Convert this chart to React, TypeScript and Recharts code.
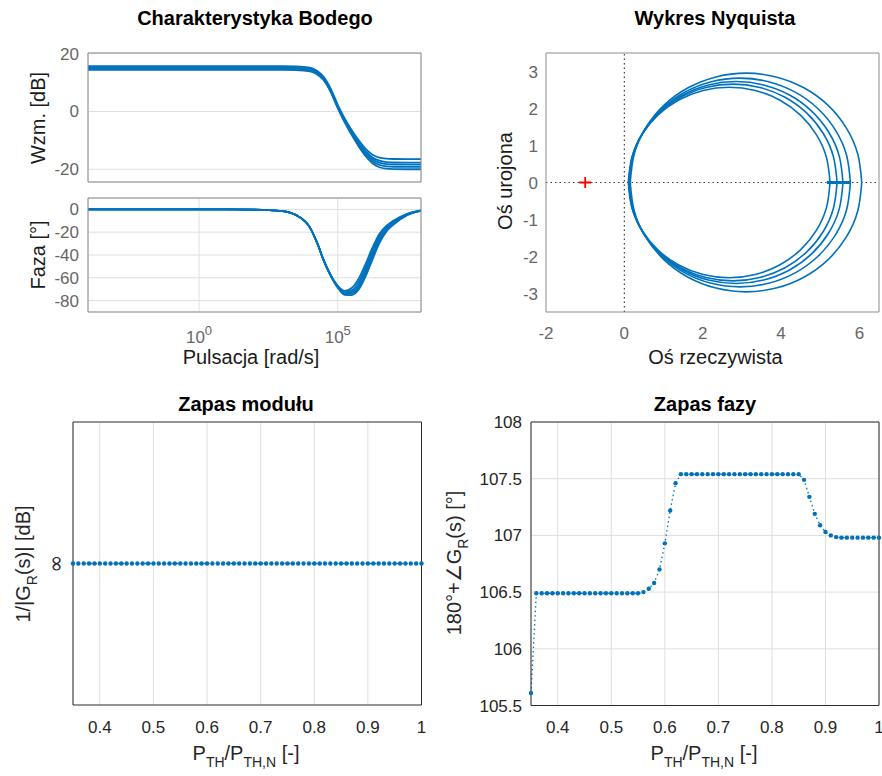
import React from 'react';
import {
  ComposedChart,
  LineChart,
  Line,
  Scatter,
  XAxis,
  YAxis,
  CartesianGrid,
  ReferenceLine,
} from 'recharts';

const BLUE = '#0072BD';
const FONT = '"Liberation Sans", Arial, Helvetica, sans-serif';

// ---------- Bode: frequency grid [rad/s] and the responses ----------
const omega = [1e-4, 1e1, 1e2, 1e3, 3.16e3, 1e4, 1.78e4, 3.16e4, 5.62e4, 1e5, 1.78e5, 3.16e5, 5.62e5, 1e6, 1.78e6, 3.16e6, 5.62e6, 1e7, 3.16e7, 1e8];

const magDb1 = [15.65, 15.65, 15.65, 15.64, 15.57, 15.1, 14.1, 11.9, 7.8, 2.3, -2.4, -6.4, -9.9, -12.9, -15.0, -16.0, -16.35, -16.45, -16.5, -16.5];
const magDb2 = [15.22, 15.22, 15.22, 15.21, 15.14, 14.69, 13.69, 11.49, 7.4, 1.9, -2.9, -6.9, -10.6, -13.7, -15.9, -17.0, -17.5, -17.65, -17.7, -17.7];
const magDb3 = [14.93, 14.93, 14.93, 14.92, 14.85, 14.4, 13.4, 11.2, 7.1, 1.6, -3.2, -7.3, -11.0, -14.2, -16.5, -17.7, -18.2, -18.35, -18.4, -18.4];
const magDb4 = [14.7, 14.7, 14.7, 14.69, 14.62, 14.17, 13.17, 10.97, 6.9, 1.4, -3.5, -7.7, -11.5, -14.8, -17.2, -18.5, -19.0, -19.15, -19.2, -19.2];
const magDb5 = [14.4, 14.4, 14.4, 14.39, 14.32, 13.87, 12.87, 10.67, 6.6, 1.1, -3.8, -8.1, -12.0, -15.4, -17.9, -19.3, -19.8, -19.95, -20.0, -20.0];

const phaseDeg1 = [0, 0, -0.2, -1.5, -5, -16, -29, -45, -57.8, -67, -71.5, -69, -61, -48, -33.5, -21.5, -14.5, -10, -3.8, -0.9];
const phaseDeg2 = [0, 0, -0.2, -1.5, -5, -16, -29, -45, -57.9, -67.5, -72.5, -71, -64, -51, -36.5, -23.5, -15.8, -11, -4.2, -1];
const phaseDeg3 = [0, 0, -0.2, -1.5, -5, -16, -29, -45, -58, -68, -73.5, -72.5, -66.5, -54, -39, -25.5, -17, -12, -4.5, -1];
const phaseDeg4 = [0, 0, -0.2, -1.5, -5, -16, -29, -45.2, -58.2, -68.3, -74.2, -73.8, -68.5, -56.5, -41.5, -27.5, -18.2, -12.8, -4.8, -1.1];
const phaseDeg5 = [0, 0, -0.2, -1.5, -5, -16, -29, -45.3, -58.4, -68.6, -75, -75.2, -70.5, -59, -44, -29.5, -19.5, -13.6, -5.1, -1.2];

// ---------- Nyquist: positive-frequency branch [Re, Im] of each curve ----------
const nyq1: [number, number][] = [
  [6.06, 0], [5.959, -0.765], [5.664, -1.478], [5.195, -2.09], [4.583, -2.559], [3.87, -2.854], [3.105, -2.955],
  [2.34, -2.854], [1.627, -2.559], [1.015, -2.09], [0.546, -1.478], [0.251, -0.765], [0.15, 0],
];
const nyq2: [number, number][] = [
  [5.77, 0], [5.674, -0.73], [5.392, -1.41], [4.944, -1.994], [4.36, -2.442], [3.68, -2.724], [2.95, -2.82],
  [2.22, -2.724], [1.54, -2.442], [0.956, -1.994], [0.508, -1.41], [0.226, -0.73], [0.13, 0],
];
const nyq3: [number, number][] = [
  [5.58, 0], [5.487, -0.707], [5.214, -1.365], [4.78, -1.93], [4.215, -2.364], [3.557, -2.637], [2.85, -2.73],
  [2.143, -2.637], [1.485, -2.364], [0.92, -1.93], [0.486, -1.365], [0.213, -0.707], [0.12, 0],
];
const nyq4: [number, number][] = [
  [5.43, 0], [5.339, -0.688], [5.074, -1.33], [4.651, -1.881], [4.1, -2.304], [3.458, -2.569], [2.77, -2.66],
  [2.082, -2.569], [1.44, -2.304], [0.889, -1.881], [0.466, -1.33], [0.201, -0.688], [0.11, 0],
];
const nyq5: [number, number][] = [
  [5.25, 0], [5.162, -0.666], [4.905, -1.288], [4.496, -1.821], [3.963, -2.23], [3.341, -2.487], [2.675, -2.575],
  [2.009, -2.487], [1.387, -2.23], [0.854, -1.821], [0.445, -1.288], [0.188, -0.666], [0.1, 0],
];
const nyqLowFreq: [number, number][] = [[5.17, 0], [5.78, 0]];
const criticalPoint = [{ re: -1, im: 0 }];

// ---------- Stability margins vs P_TH/P_TH,N ----------
const pth = [
  0.35, 0.36, 0.37, 0.38, 0.39, 0.4, 0.41, 0.42, 0.43, 0.44,
  0.45, 0.46, 0.47, 0.48, 0.49, 0.5, 0.51, 0.52, 0.53, 0.54,
  0.55, 0.56, 0.57, 0.58, 0.59, 0.6, 0.61, 0.62, 0.63, 0.64,
  0.65, 0.66, 0.67, 0.68, 0.69, 0.7, 0.71, 0.72, 0.73, 0.74,
  0.75, 0.76, 0.77, 0.78, 0.79, 0.8, 0.81, 0.82, 0.83, 0.84,
  0.85, 0.86, 0.87, 0.88, 0.89, 0.9, 0.91, 0.92, 0.93, 0.94,
  0.95, 0.96, 0.97, 0.98, 0.99, 1.0,
];
const gmDb = [
  Infinity, Infinity, Infinity, Infinity, Infinity, Infinity, Infinity, Infinity, Infinity, Infinity,
  Infinity, Infinity, Infinity, Infinity, Infinity, Infinity, Infinity, Infinity, Infinity, Infinity,
  Infinity, Infinity, Infinity, Infinity, Infinity, Infinity, Infinity, Infinity, Infinity, Infinity,
  Infinity, Infinity, Infinity, Infinity, Infinity, Infinity, Infinity, Infinity, Infinity, Infinity,
  Infinity, Infinity, Infinity, Infinity, Infinity, Infinity, Infinity, Infinity, Infinity, Infinity,
  Infinity, Infinity, Infinity, Infinity, Infinity, Infinity, Infinity, Infinity, Infinity, Infinity,
  Infinity, Infinity, Infinity, Infinity, Infinity, Infinity,
];
const pmDeg = [
  105.61, 106.49, 106.49, 106.49, 106.49, 106.49, 106.49, 106.49, 106.49, 106.49,
  106.49, 106.49, 106.49, 106.49, 106.49, 106.49, 106.49, 106.49, 106.49, 106.49,
  106.49, 106.5, 106.53, 106.58, 106.7, 106.93, 107.22, 107.46, 107.54, 107.54,
  107.54, 107.54, 107.54, 107.54, 107.54, 107.54, 107.54, 107.54, 107.54, 107.54,
  107.54, 107.54, 107.54, 107.54, 107.54, 107.54, 107.54, 107.54, 107.54, 107.54,
  107.54, 107.49, 107.34, 107.19, 107.09, 107.03, 107.0, 106.985, 106.98, 106.98,
  106.98, 106.98, 106.98, 106.98, 106.98, 106.98,
];
// the gain-margin axis only has one tick, labelled infinity, at this level
const INF_LEVEL = 1;

const bodeData = omega.map((w, i) => ({
  w,
  m1: magDb1[i], m2: magDb2[i], m3: magDb3[i], m4: magDb4[i], m5: magDb5[i],
  f1: phaseDeg1[i], f2: phaseDeg2[i], f3: phaseDeg3[i], f4: phaseDeg4[i], f5: phaseDeg5[i],
}));
const nyqCurves = [nyq1, nyq2, nyq3, nyq4, nyq5].map((c) => c.map(([re, im]) => ({ re, im })));
const marginData = pth.map((p, i) => ({
  p,
  gm: Number.isFinite(gmDb[i]) ? gmDb[i] : INF_LEVEL,
  pm: pmDeg[i],
}));

// layout: every chart is placed so that its plot area lands on (x0,y0)-(x1,y1)
const YW = 60;
const XH = 50;
const MT = 10;
const MR = 10;
const MARGIN = { top: MT, right: MR, bottom: 0, left: 0 };

function place(x0: number, y0: number, x1: number, y1: number) {
  return {
    pos: { position: 'absolute' as const, left: x0 - YW, top: y0 - MT },
    width: x1 - x0 + YW + MR,
    height: y1 - y0 + MT + XH,
  };
}

const TOP_FRAME = '#8c8c8c';
const TOP_TEXT = '#666666';
const BOT_FRAME = '#2b2b2b';
const BOT_TEXT = '#262626';
const GRID = '#dfdfdf';

// box with inward ticks on all four sides (MATLAB style)
function frameAxes(xa: any, ya: any, color: string) {
  const line = { stroke: color, strokeWidth: 1 };
  return [
    <XAxis key='ft' xAxisId='ft' orientation='top' mirror {...xa} tick={false} tickLine={line} tickSize={4} axisLine={line} />,
    <XAxis key='fb' xAxisId='fb' orientation='bottom' mirror {...xa} tick={false} tickLine={line} tickSize={4} axisLine={false} />,
    <YAxis key='fr' yAxisId='fr' orientation='right' mirror {...ya} tick={false} tickLine={line} tickSize={4} axisLine={line} />,
    <YAxis key='fl' yAxisId='fl' orientation='left' mirror {...ya} tick={false} tickLine={line} tickSize={4} axisLine={false} />,
  ];
}

function PowTick({ x, y, payload }: any) {
  const e = Math.round(Math.log10(payload.value));
  return (
    <text x={x} y={y} textAnchor='middle' fill={TOP_TEXT} fontSize={17} fontFamily={FONT}>
      <tspan dy={13}>10</tspan>
      <tspan dy={-8} fontSize={13}>{e}</tspan>
    </text>
  );
}

function InfTick({ x, y }: any) {
  return (
    <text
      x={x}
      y={y}
      textAnchor='middle'
      dominantBaseline='central'
      transform={`rotate(-90 ${x} ${y})`}
      fill={BOT_TEXT}
      fontSize={22}
      fontFamily='"DejaVu Sans", sans-serif'
    >
      ∞
    </text>
  );
}

function RedPlus({ cx, cy }: any) {
  return (
    <path
      d={`M${cx - 6},${cy}H${cx + 6}M${cx},${cy - 5.5}V${cy + 5.5}`}
      stroke='#ff0000'
      strokeWidth={1.8}
      fill='none'
    />
  );
}

function Txt({ x, y, size = 20, bold, rotate, color = '#1a1a1a', children }: any) {
  return (
    <div
      style={{
        position: 'absolute',
        left: x,
        top: y,
        transform: `translate(-50%, -50%)${rotate ? ' rotate(-90deg)' : ''}`,
        fontSize: size,
        lineHeight: `${size}px`,
        fontWeight: bold ? 700 : 400,
        whiteSpace: 'nowrap',
        color,
      }}
    >
      {children}
    </div>
  );
}

function Sub({ children }: any) {
  return <span style={{ fontSize: 14, position: 'relative', top: 7 }}>{children}</span>;
}

const topTick = { fill: TOP_TEXT, fontSize: 17, fontFamily: FONT };
const botTick = { fill: BOT_TEXT, fontSize: 17, fontFamily: FONT };

export default function App() {
  const bMag = place(88, 53, 421, 182);
  const bPh = place(88, 198, 421, 312);
  const nq = place(546, 53, 879, 312);
  const gm = place(73, 422, 421.5, 705);
  const pm = place(531, 422, 879, 705.5);

  const bodeX = { dataKey: 'w', type: 'number', scale: 'log', domain: [1e-4, 1e8], ticks: [1, 1e5], allowDataOverflow: true, interval: 0 };
  const magY = { type: 'number', domain: [-24.4, 20.2], ticks: [-20, 0, 20], allowDataOverflow: true, interval: 0 };
  const phY = { type: 'number', domain: [-90, 10], ticks: [-80, -60, -40, -20, 0], allowDataOverflow: true, interval: 0 };
  const nqX = { dataKey: 're', type: 'number', domain: [-2, 6.5], ticks: [-2, 0, 2, 4, 6], allowDataOverflow: true, interval: 0 };
  const nqY = { type: 'number', domain: [-3.5, 3.5], ticks: [-3, -2, -1, 0, 1, 2, 3], allowDataOverflow: true, interval: 0 };
  const pX = { dataKey: 'p', type: 'number', domain: [0.35, 1], ticks: [0.4, 0.5, 0.6, 0.7, 0.8, 0.9, 1], allowDataOverflow: true, interval: 0 };
  const gmY = { type: 'number', domain: [0, 2], ticks: [INF_LEVEL], allowDataOverflow: true, interval: 0 };
  const pmY = { type: 'number', domain: [105.5, 108], ticks: [105.5, 106, 106.5, 107, 107.5, 108], allowDataOverflow: true, interval: 0 };

  const topLine = { stroke: TOP_FRAME };
  const botLine = { stroke: BOT_FRAME };

  return (
    <div
      style={{
        position: 'absolute',
        left: 0,
        top: 0,
        width: 882,
        height: 776,
        overflow: 'hidden',
        background: '#fff',
        fontFamily: FONT,
      }}
    >
      {/* Bode magnitude */}
      <div style={bMag.pos}>
        <LineChart width={bMag.width} height={bMag.height} data={bodeData} margin={MARGIN}>
          <CartesianGrid stroke={GRID} />
          <XAxis {...(bodeX as any)} height={XH} tick={false} tickLine={false} axisLine={topLine} />
          <YAxis {...(magY as any)} width={YW} tickLine={false} tickSize={0} tickMargin={9} axisLine={topLine} tick={topTick} />
          {frameAxes(bodeX, magY, TOP_FRAME)}
          {['m1', 'm2', 'm3', 'm4', 'm5'].map((k) => (
            <Line key={k} dataKey={k} type='monotone' stroke={BLUE} strokeWidth={1.8} dot={false} isAnimationActive={false} />
          ))}
        </LineChart>
      </div>

      {/* Bode phase */}
      <div style={bPh.pos}>
        <LineChart width={bPh.width} height={bPh.height} data={bodeData} margin={MARGIN}>
          <CartesianGrid stroke={GRID} />
          <XAxis {...(bodeX as any)} height={XH} tick={<PowTick />} tickLine={false} tickSize={0} tickMargin={18} axisLine={topLine} />
          <YAxis {...(phY as any)} width={YW} tickLine={false} tickSize={0} tickMargin={9} axisLine={topLine} tick={topTick} />
          {frameAxes(bodeX, phY, TOP_FRAME)}
          {['f1', 'f2', 'f3', 'f4', 'f5'].map((k) => (
            <Line key={k} dataKey={k} type='monotone' stroke={BLUE} strokeWidth={1.8} dot={false} isAnimationActive={false} />
          ))}
        </LineChart>
      </div>

      {/* Nyquist */}
      <div style={nq.pos}>
        <ComposedChart width={nq.width} height={nq.height} margin={MARGIN}>
          <XAxis {...(nqX as any)} height={XH} tickLine={false} tickSize={0} tickMargin={15} axisLine={topLine} tick={topTick} />
          <YAxis {...(nqY as any)} width={YW} tickLine={false} tickSize={0} tickMargin={8} axisLine={topLine} tick={topTick} />
          {frameAxes(nqX, nqY, TOP_FRAME)}
          <ReferenceLine x={0} stroke='#404040' strokeWidth={1.2} strokeDasharray='1.5 3' />
          <ReferenceLine y={0} stroke='#404040' strokeWidth={1.2} strokeDasharray='1.5 3' />
          {nyqCurves.map((c, i) => (
            <Line
              key={'lo' + i}
              data={c}
              dataKey='im'
              type='natural'
              stroke={BLUE}
              strokeWidth={1.6}
              dot={false}
              isAnimationActive={false}
            />
          ))}
          {nyqCurves.map((c, i) => (
            <Line
              key={'hi' + i}
              data={c.map((pt) => ({ re: pt.re, im: -pt.im }))}
              dataKey='im'
              type='natural'
              stroke={BLUE}
              strokeWidth={1.6}
              dot={false}
              isAnimationActive={false}
            />
          ))}
          <Line
            data={nyqLowFreq.map(([re, im]) => ({ re, im }))}
            dataKey='im'
            type='linear'
            stroke={BLUE}
            strokeWidth={3}
            dot={false}
            isAnimationActive={false}
          />
          <Scatter data={criticalPoint} dataKey='im' shape={<RedPlus />} isAnimationActive={false} />
        </ComposedChart>
      </div>

      {/* Gain margin */}
      <div style={gm.pos}>
        <LineChart width={gm.width} height={gm.height} data={marginData} margin={MARGIN}>
          <CartesianGrid stroke={GRID} horizontal={false} />
          <XAxis {...(pX as any)} height={XH} tickLine={false} tickSize={0} tickMargin={15.5} axisLine={botLine} tick={botTick} />
          <YAxis {...(gmY as any)} width={YW} tickLine={false} tickSize={0} tickMargin={18} axisLine={botLine} tick={<InfTick />} />
          {frameAxes(pX, gmY, BOT_FRAME)}
          <Line
            dataKey='gm'
            type='linear'
            stroke={BLUE}
            strokeWidth={1.3}
            strokeDasharray='1.5 3'
            dot={{ r: 2.2, fill: BLUE, stroke: 'none', clipDot: false }}
            isAnimationActive={false}
          />
        </LineChart>
      </div>

      {/* Phase margin */}
      <div style={pm.pos}>
        <LineChart width={pm.width} height={pm.height} data={marginData} margin={MARGIN}>
          <CartesianGrid stroke={GRID} />
          <XAxis {...(pX as any)} height={XH} tickLine={false} tickSize={0} tickMargin={15.5} axisLine={botLine} tick={botTick} />
          <YAxis {...(pmY as any)} width={YW} tickLine={false} tickSize={0} tickMargin={9} axisLine={botLine} tick={botTick} />
          {frameAxes(pX, pmY, BOT_FRAME)}
          <Line
            dataKey='pm'
            type='linear'
            stroke={BLUE}
            strokeWidth={1.3}
            strokeDasharray='1.5 3'
            dot={{ r: 2.2, fill: BLUE, stroke: 'none', clipDot: false }}
            isAnimationActive={false}
          />
        </LineChart>
      </div>

      {/* titles and axis labels */}
      <Txt x={255} y={18} bold color='#000'>Charakterystyka Bodego</Txt>
      <Txt x={715} y={18} bold color='#000'>Wykres Nyquista</Txt>
      <Txt x={246} y={404} bold color='#000'>Zapas modułu</Txt>
      <Txt x={705} y={404} bold color='#000'>Zapas fazy</Txt>

      <Txt x={37.5} y={118} rotate>Wzm. [dB]</Txt>
      <Txt x={38} y={255} rotate>Faza [°]</Txt>
      <Txt x={251} y={357}>Pulsacja [rad/s]</Txt>
      <Txt x={715.5} y={357}>Oś rzeczywista</Txt>
      <Txt x={505} y={181} rotate>Oś urojona</Txt>

      <Txt x={24} y={564} rotate color={BOT_TEXT}>
        1/|G<Sub>R</Sub>(s)| [dB]
      </Txt>
      <Txt x={455} y={563} rotate color={BOT_TEXT}>
        180°+∠G<Sub>R</Sub>(s) [°]
      </Txt>
      <Txt x={246} y={753.5} color={BOT_TEXT}>
        P<Sub>TH</Sub>/P<Sub>TH,N</Sub> [-]
      </Txt>
      <Txt x={704} y={753.5} color={BOT_TEXT}>
        P<Sub>TH</Sub>/P<Sub>TH,N</Sub> [-]
      </Txt>
    </div>
  );
}
